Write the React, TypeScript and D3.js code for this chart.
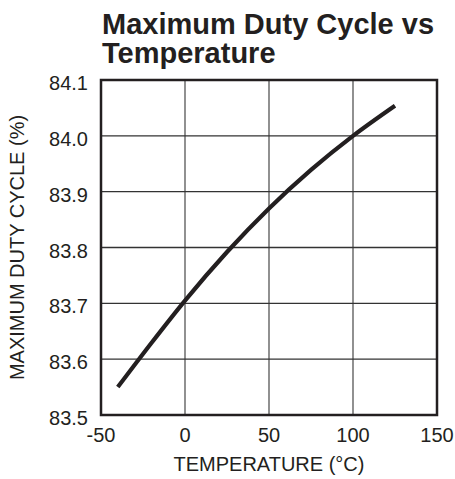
import React, { useEffect, useRef } from "react";
import * as d3 from "d3";

const temps = [-40, -20, 0, 25, 50, 75, 100, 125];
const duty = [83.55, 83.629, 83.705, 83.792, 83.87, 83.939, 84.0, 84.054];
const xTicks = [-50, 0, 50, 100, 150];
const yTicks = [83.5, 83.6, 83.7, 83.8, 83.9, 84.0, 84.1];
const titleLines = ["Maximum Duty Cycle vs", "Temperature"];

const App = () => {
  const chartEl = useRef(null);

  useEffect(() => {
    const W = 455,
      H = 479;
    const margin = { top: 80, right: 18, bottom: 64, left: 101 };
    const width = W - margin.left - margin.right,
      height = H - margin.top - margin.bottom;
    const font = "'Liberation Sans', Arial, sans-serif";

    const svg = d3.select(chartEl.current);
    svg.selectAll("*").remove();
    svg.attr("width", W).attr("height", H);

    const xScale = d3.scaleLinear().domain([-50, 150]).range([0, width]);
    const yScale = d3.scaleLinear().domain([83.5, 84.1]).range([height, 0]);

    const g = svg
      .append("g")
      .attr("transform", "translate(" + margin.left + "," + margin.top + ")");

    // grid
    g.selectAll(".vgrid")
      .data(xTicks.slice(1, -1))
      .enter()
      .append("line")
      .attr("x1", (d) => xScale(d))
      .attr("x2", (d) => xScale(d))
      .attr("y1", 0)
      .attr("y2", height)
      .attr("stroke", "#555")
      .attr("stroke-width", 1.3);

    g.selectAll(".hgrid")
      .data(yTicks.slice(1, -1))
      .enter()
      .append("line")
      .attr("x1", 0)
      .attr("x2", width)
      .attr("y1", (d) => yScale(d))
      .attr("y2", (d) => yScale(d))
      .attr("stroke", "#333")
      .attr("stroke-width", 1.3);

    // frame
    g.append("rect")
      .attr("width", width)
      .attr("height", height)
      .attr("fill", "none")
      .attr("stroke", "#231f20")
      .attr("stroke-width", 2.5);

    // tick labels
    g.selectAll(".xl")
      .data(xTicks)
      .enter()
      .append("text")
      .attr("x", (d) => xScale(d))
      .attr("y", height + 27)
      .attr("text-anchor", "middle")
      .attr("font-family", font)
      .attr("font-size", 20)
      .attr("fill", "#231f20")
      .text((d) => String(d));

    g.selectAll(".yl")
      .data(yTicks)
      .enter()
      .append("text")
      .attr("x", -13)
      .attr("y", (d) => yScale(d) + 10)
      .attr("text-anchor", "end")
      .attr("font-family", font)
      .attr("font-size", 20)
      .attr("fill", "#231f20")
      .text((d) => d3.format(".1f")(d));

    // axis titles
    g.append("text")
      .attr("x", width / 2)
      .attr("y", height + 56)
      .attr("text-anchor", "middle")
      .attr("font-family", font)
      .attr("font-size", 20)
      .attr("fill", "#231f20")
      .text("TEMPERATURE (\u00B0C)");

    g.append("text")
      .attr("transform", "translate(" + (24 - margin.left) + "," + height / 2 + ") rotate(-90)")
      .attr("text-anchor", "middle")
      .attr("font-family", font)
      .attr("font-size", 20)
      .attr("fill", "#231f20")
      .text("MAXIMUM DUTY CYCLE (%)");

    // title
    svg
      .selectAll(".title")
      .data(titleLines)
      .enter()
      .append("text")
      .attr("x", 102)
      .attr("y", (d, i) => 34 + i * 29)
      .attr("font-family", font)
      .attr("font-weight", "bold")
      .attr("font-size", 29)
      .attr("fill", "#231f20")
      .text((d) => d);

    // curve
    const dataset = temps.map((t, i) => ({ t, v: duty[i] }));
    const line = d3
      .line()
      .x((d) => xScale(d.t))
      .y((d) => yScale(d.v))
      .curve(d3.curveMonotoneX);

    g.append("path")
      .datum(dataset)
      .attr("d", line)
      .attr("fill", "none")
      .attr("stroke", "#231f20")
      .attr("stroke-width", 4.2);
  }, [chartEl]);

  return (
    <svg
      ref={chartEl}
      style={{ position: "absolute", left: 0, top: 0, background: "#fff" }}
    ></svg>
  );
};

export default App;
